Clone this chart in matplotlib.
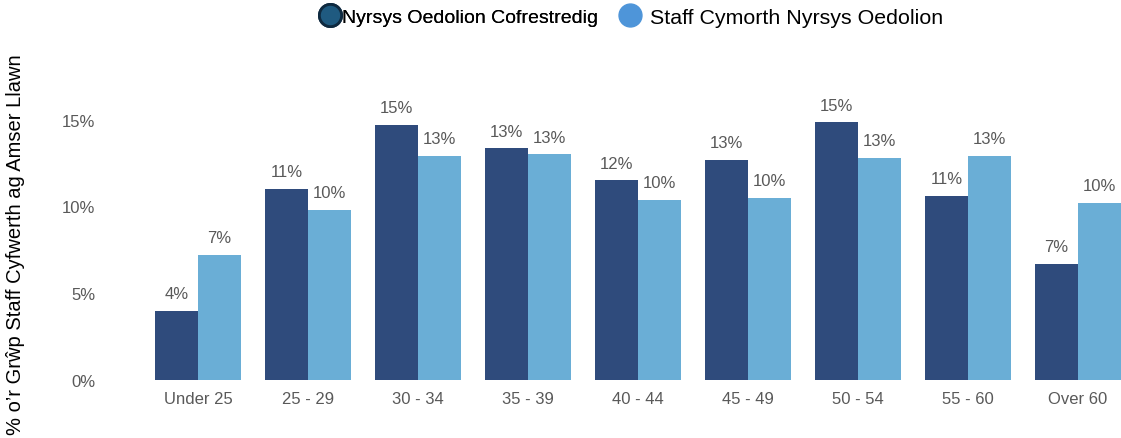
import matplotlib
matplotlib.use('Agg')
import matplotlib.pyplot as plt
from matplotlib.lines import Line2D
import numpy

categories = ['Under 25', '25 - 29', '30 - 34', '35 - 39', '40 - 44', '45 - 49', '50 - 54', '55 - 60', 'Over 60']
registered = [4.0, 11.0, 14.7, 13.35, 11.5, 12.7, 14.85, 10.6, 6.7]
support = [7.2, 9.8, 12.9, 13.0, 10.4, 10.5, 12.8, 12.9, 10.2]
registered_labels = ['4%', '11%', '15%', '13%', '12%', '13%', '15%', '11%', '7%']
support_labels = ['7%', '10%', '13%', '13%', '10%', '10%', '13%', '13%', '10%']
series_names = ['Nyrsys Oedolion Cofrestredig', 'Staff Cymorth Nyrsys Oedolion']
y_ticks = [0, 5, 10, 15]

dark = '#2F4B7C'
light = '#6AAED6'
grey = '#595959'

plt.rcParams['font.family'] = ['Liberation Sans Narrow', 'Liberation Sans', 'DejaVu Sans']


def main():
    fig = plt.figure(figsize=(11.21, 4.39), dpi=100)
    W, H = 1121, 439
    left, right, bottom, top = 130, 1121, 381, 60
    ax = fig.add_axes([left / W, 1 - bottom / H, (right - left) / W, (bottom - top) / H])

    x = numpy.arange(len(categories))
    w = 0.39
    b1 = ax.bar(x - w / 2, registered, w, color=dark)
    b2 = ax.bar(x + w / 2, support, w, color=light)

    for bars, labels in ((b1, registered_labels), (b2, support_labels)):
        for bar, lab in zip(bars, labels):
            ax.annotate(lab, (bar.get_x() + bar.get_width() / 2, bar.get_height()),
                        xytext=(0, 7), textcoords='offset points', ha='center', va='bottom',
                        fontsize=12, color=grey)

    ax.set_xlim(-0.62, 8.39)
    ax.set_ylim(0, 18.5)
    ax.set_xticks(x)
    ax.set_xticklabels(categories, fontsize=12, color=grey)
    ax.set_yticks(y_ticks)
    ax.set_yticklabels([f'{t}%' for t in y_ticks], fontsize=12, color=grey)
    ax.tick_params(axis='y', length=0, pad=25)
    ax.tick_params(axis='x', length=0, pad=8)
    for s in ax.spines.values():
        s.set_visible(False)

    fig.text(16 / W, 1 - 245 / H, '% o\u2019r Grŵp Staff Cyfwerth ag Amser Llawn', rotation=90,
             ha='center', va='center', fontsize=14.5, color='black', family=['Liberation Sans', 'DejaVu Sans'])

    # two legend entries placed separately (second one uses larger text in the original)
    h1 = Line2D([], [], marker='o', linestyle='', markersize=16, markerfacecolor='#1F5A80',
                markeredgecolor='#0F2A40', markeredgewidth=2)
    h2 = Line2D([], [], marker='o', linestyle='', markersize=16.5, markerfacecolor='#4E95D9',
                markeredgecolor='#4E95D9')
    leg1 = fig.legend([h1], [series_names[0]], loc='center left', bbox_to_anchor=(318 / W, 1 - 18 / H),
                      frameon=False, borderpad=0, borderaxespad=0, handlelength=1.25, handletextpad=0.0,
                      prop={'family': ['Liberation Sans', 'DejaVu Sans'], 'size': 14})
    fig.add_artist(leg1)
    fig.legend([h2], [series_names[1]], loc='center left', bbox_to_anchor=(618 / W, 1 - 18 / H),
               frameon=False, borderpad=0, borderaxespad=0, handlelength=1.15, handletextpad=0.35,
               prop={'family': ['Liberation Sans', 'DejaVu Sans'], 'size': 15.4})

    fig.savefig('out.png', dpi=100)


if __name__ == '__main__':
    main()
